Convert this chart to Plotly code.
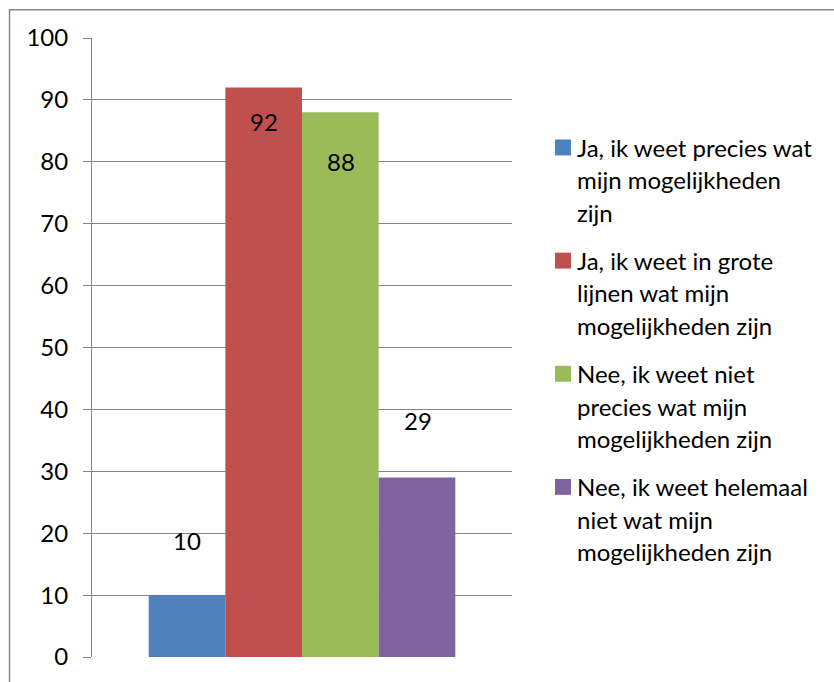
import plotly.graph_objects as go

# Survey answers: one bar per answer option
labels = [
    "Ja, ik weet precies wat<br>mijn mogelijkheden<br>zijn",
    "Ja, ik weet in grote<br>lijnen wat mijn<br>mogelijkheden zijn",
    "Nee, ik weet niet<br>precies wat mijn<br>mogelijkheden zijn",
    "Nee, ik weet helemaal<br>niet wat mijn<br>mogelijkheden zijn",
]
values = [10, 92, 88, 29]
colors = ["#4F81BD", "#C0504D", "#9BBB59", "#8064A2"]
label_shift = [55, -34, -49, 57]  # pixel offset of each value label from its bar top
y_ticks = list(range(0, 101, 10))

FONT = "Lato"
FS = 24
W, H = 834, 682
L, R, T, B = 92, 322, 38, 22
plot_w = W - L - R
plot_h = H - T - B


def px_x(x):
    return (x - L) / plot_w


def px_y(y):
    return (H - B - y) / plot_h


fig = go.Figure()
for lab, v, c in zip(labels, values, colors):
    fig.add_trace(go.Bar(x=["cat"], y=[v], name=lab, marker=dict(color=c, line_width=0),
                         showlegend=False))

# value labels
for i, (v, s) in enumerate(zip(values, label_shift)):
    fig.add_annotation(x=0, y=v, xref="x", yref="y", text=str(v), showarrow=False,
                       xshift=(i - 1.5) * 77, yshift=s, yanchor="middle",
                       font=dict(family=FONT, size=FS, color="#000000"))

# legend: colour swatch and wrapped text per entry
first_line_y = 148
line_h = 32.5
entry_h = 113.7
for i, (lab, c) in enumerate(zip(labels, colors)):
    top = first_line_y + i * entry_h
    fig.add_shape(type="rect", xref="paper", yref="paper",
                  x0=px_x(555), x1=px_x(571), y0=px_y(top + 8), y1=px_y(top - 8),
                  fillcolor=c, line_width=0)
    for j, part in enumerate(lab.split("<br>")):
        fig.add_annotation(x=px_x(575), y=px_y(top + j * line_h),
                           xref="paper", yref="paper", text=part, showarrow=False,
                           xanchor="left", yanchor="middle",
                           font=dict(family=FONT, size=FS, color="#000000"))

# chart frame
fig.add_shape(type="rect", xref="paper", yref="paper",
              x0=px_x(9.5), x1=px_x(W + 5), y0=px_y(H + 5), y1=px_y(9.5),
              line=dict(color="#868686", width=1.5), fillcolor="rgba(0,0,0,0)", layer="below")

fig.update_layout(
    width=W, height=H,
    margin=dict(l=L, r=R, t=T, b=B),
    paper_bgcolor="white", plot_bgcolor="white",
    barmode="group", bargap=0.27, bargroupgap=0,
    font=dict(family=FONT, size=FS, color="#000000"),
    xaxis=dict(showticklabels=False, showgrid=False, zeroline=False, showline=False,
               ticks=""),
    yaxis=dict(range=[0, 100], tickvals=y_ticks, showgrid=True, gridcolor="#868686",
               gridwidth=1, zeroline=False, showline=True, linecolor="#868686",
               linewidth=1, ticks="outside", ticklen=8, tickcolor="#868686",
               tickfont=dict(family=FONT, size=FS, color="#000000"), ticklabelstandoff=10),
)

fig.write_html("out.html")
